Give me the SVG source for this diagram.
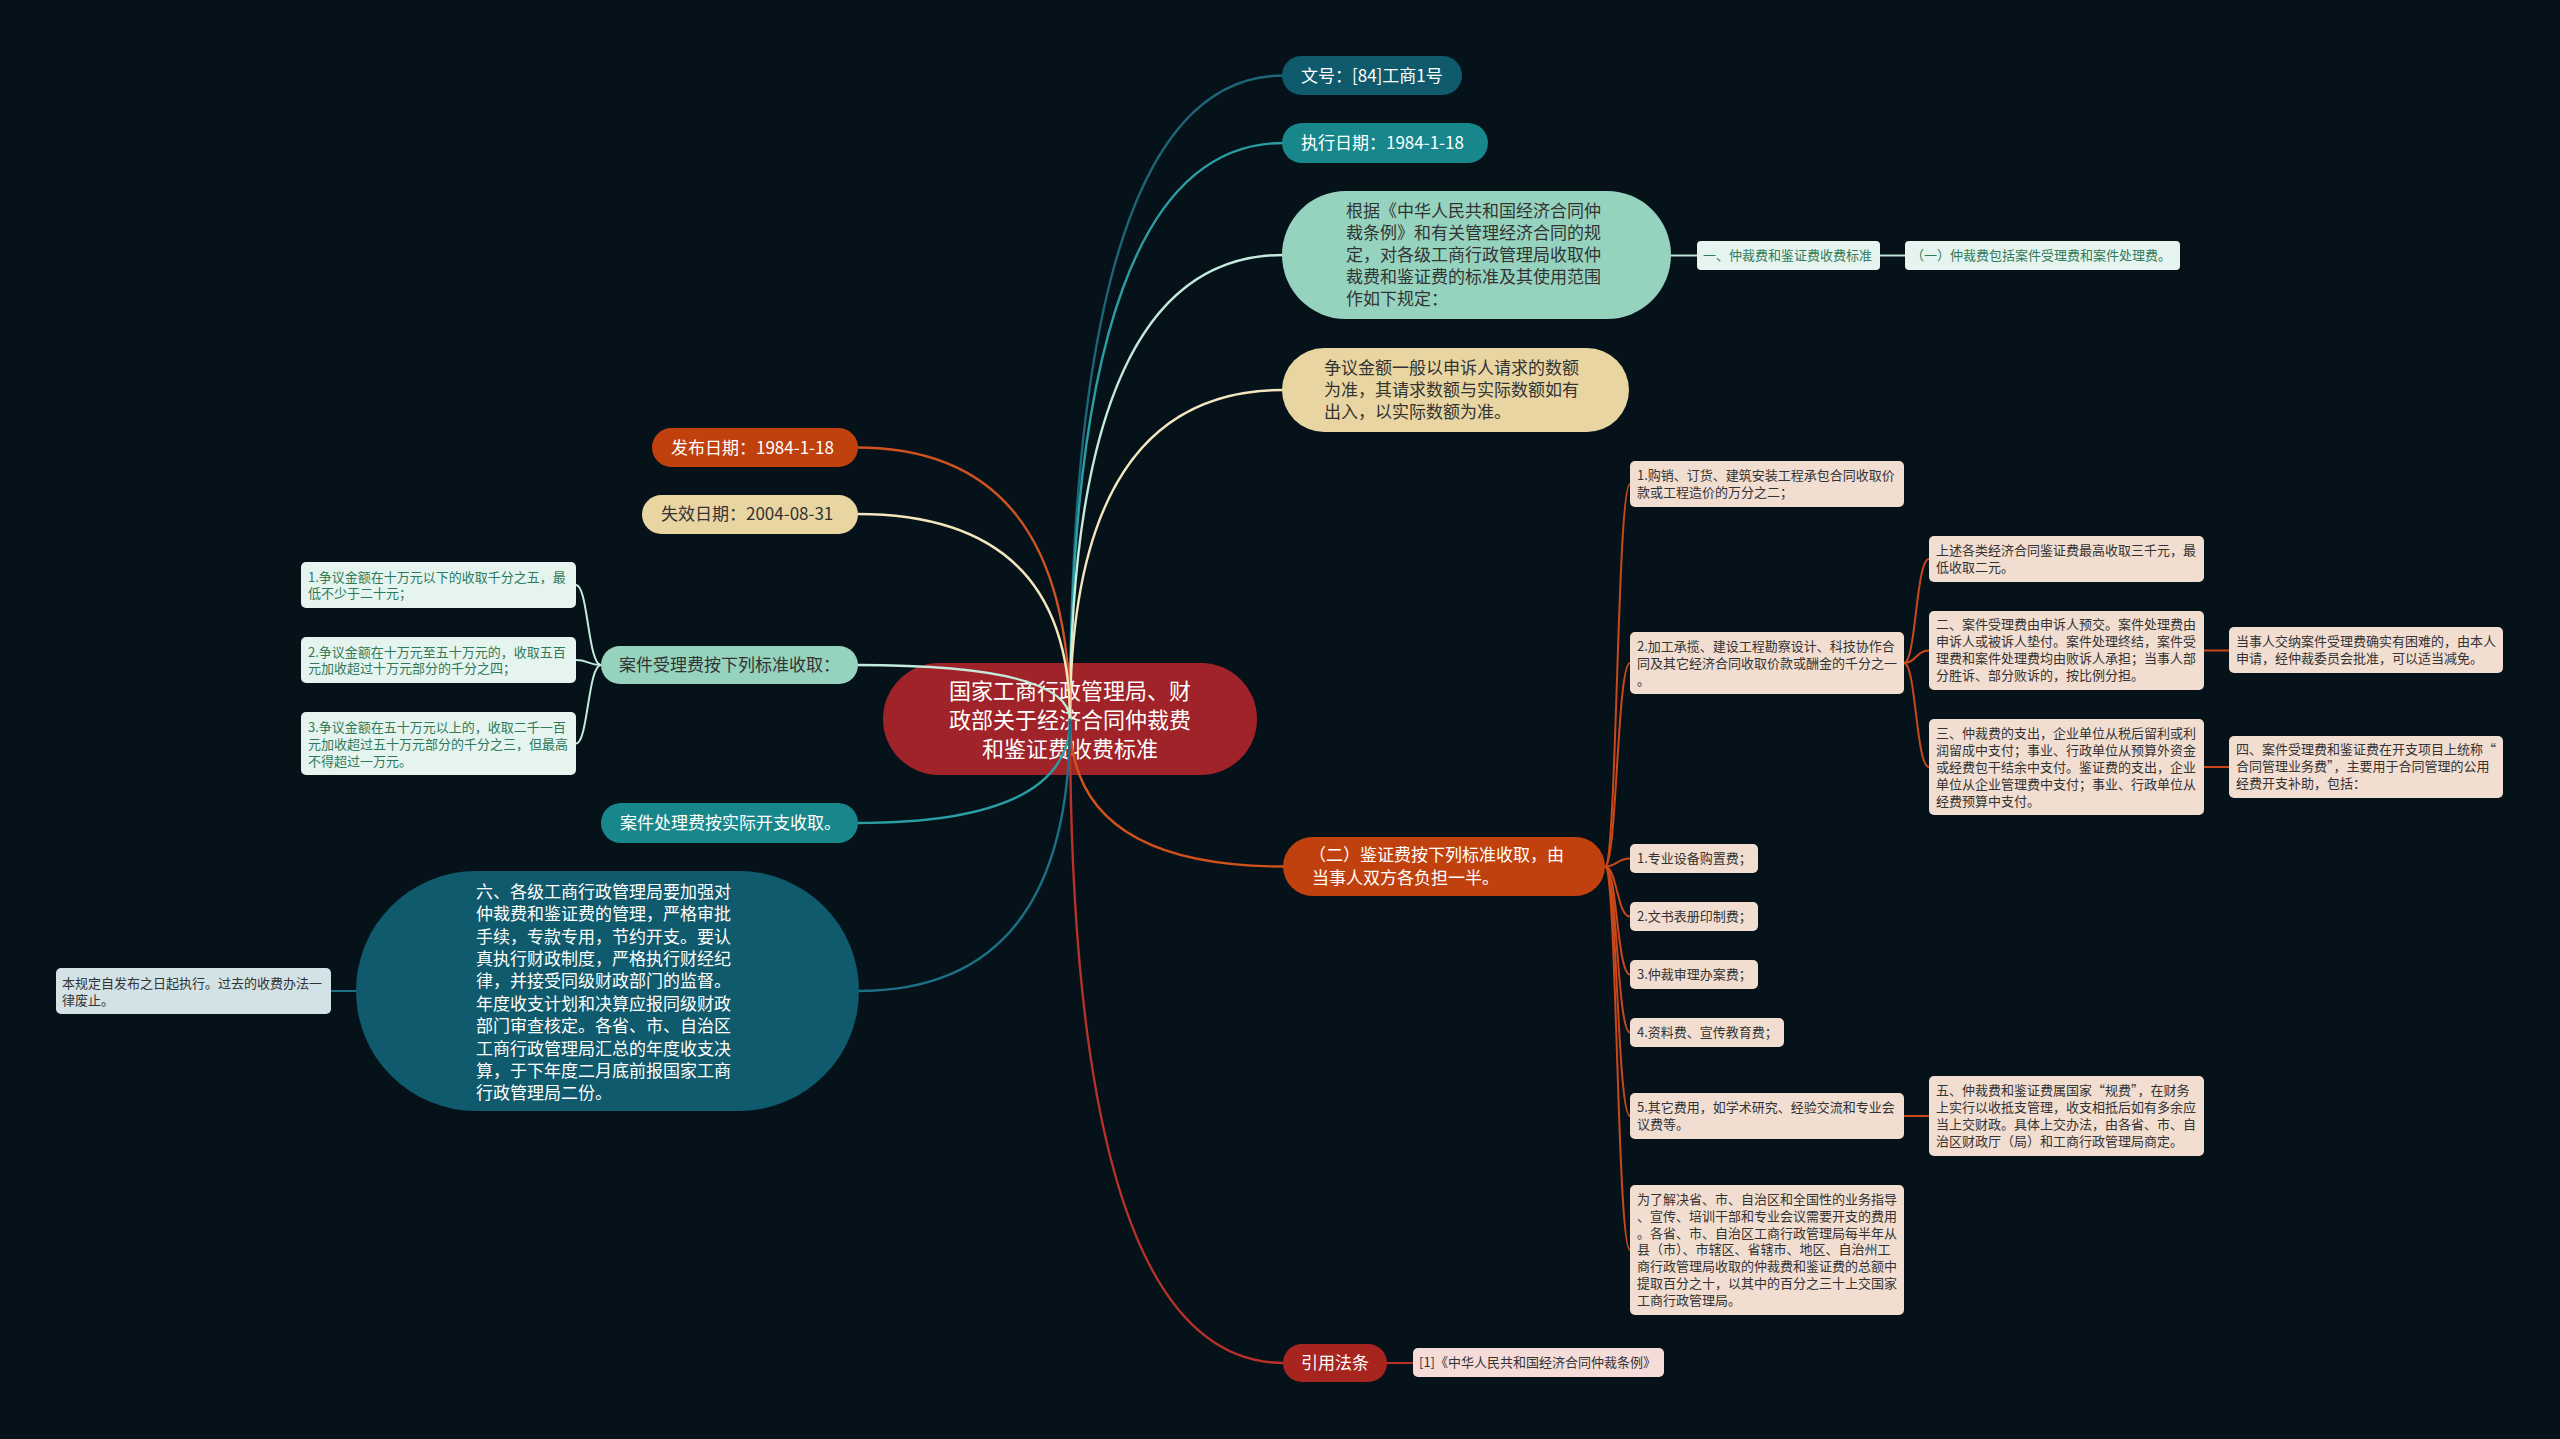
<svg xmlns="http://www.w3.org/2000/svg" width="2560" height="1439" viewBox="0 0 2560 1439">
<style>
text{font-family:"Noto Sans CJK SC","Noto Sans",sans-serif;dominant-baseline:central;transform:translate(0px,-1.5px)}
.t22{font-size:22px}
.t17{font-size:17px}
.t13{font-size:13px}
.w{fill:#ffffff}
.d{fill:#333333}
.g{fill:#2e7a5a}
.ln{fill:none;stroke-width:2.4;stroke-linecap:round}
.sl{fill:none;stroke-width:2;stroke-linecap:round}
.pe{fill:#f2ddd1}
.mi{fill:#e6f4ef}
</style>
<rect x="0" y="0" width="2560" height="1439" fill="#06121a"/>

<g id="center">
<rect x="883" y="663" width="374" height="112" rx="56" fill="#a1232a"/>
<text class="t22 w" x="1070" y="690" text-anchor="middle">国家工商行政管理局、财</text>
<text class="t22 w" x="1070" y="719" text-anchor="middle">政部关于经济合同仲裁费</text>
<text class="t22 w" x="1070" y="748" text-anchor="middle">和鉴证费收费标准</text>
</g>

<g id="connectors">
<path class="ln" stroke="#1d6577" d="M1070 720 Q1070 75.5 1283 75.5"/>
<path class="ln" stroke="#2a9ea3" d="M1070 720 Q1070 143 1283 143"/>
<path class="ln" stroke="#c4eadc" d="M1070 720 Q1070 255 1283 255"/>
<path class="ln" stroke="#f3e6bd" d="M1070 720 Q1070 390 1283 390"/>
<path class="ln" stroke="#d2531a" d="M1070 720 Q1070 866.5 1284 866.5"/>
<path class="ln" stroke="#b8322a" d="M1070 720 Q1070 1363 1284 1363"/>
<path class="ln" stroke="#cf5220" d="M1070 720 Q1070 447.5 857 447.5"/>
<path class="ln" stroke="#f3e6bd" d="M1070 720 Q1070 514 857 514"/>
<path class="ln" stroke="#c4eadc" d="M1070 720 Q1070 665 857 665"/>
<path class="ln" stroke="#2a9ea3" d="M1070 720 Q1070 823 857 823"/>
<path class="ln" stroke="#1d6f86" d="M1070 720 Q1070 991 858 991"/>
<path class="sl" stroke="#b9e3d4" d="M1671 255.5 L1697 255.5 M1880 255.5 L1905 255.5"/>
<g stroke="#c9481a">
<path class="sl" d="M1605 866.5 C1617 866.5 1617 484 1630 484"/>
<path class="sl" d="M1605 866.5 C1617 866.5 1617 663 1630 663"/>
<path class="sl" d="M1605 866.5 C1617 866.5 1617 858.5 1630 858.5"/>
<path class="sl" d="M1605 866.5 C1617 866.5 1617 916.5 1630 916.5"/>
<path class="sl" d="M1605 866.5 C1617 866.5 1617 974.5 1630 974.5"/>
<path class="sl" d="M1605 866.5 C1617 866.5 1617 1032.5 1630 1032.5"/>
<path class="sl" d="M1605 866.5 C1617 866.5 1617 1116 1630 1116"/>
<path class="sl" d="M1605 866.5 C1617 866.5 1617 1250 1630 1250"/>
<path class="sl" d="M1904 663 C1916 663 1916 559 1929 559"/>
<path class="sl" d="M1904 663 C1916 663 1916 650.5 1929 650.5"/>
<path class="sl" d="M1904 663 C1916 663 1916 767 1929 767"/>
<path class="sl" d="M2204 650.5 L2229 650.5"/>
<path class="sl" d="M2204 767 L2229 767"/>
<path class="sl" d="M1904 1116 L1929 1116"/>
</g>
<path class="sl" stroke="#b8322a" d="M1387 1363 L1413 1363"/>
<g stroke="#c4eadc">
<path class="sl" d="M601 665 C588 665 588 585 576 585"/>
<path class="sl" d="M601 665 C588 665 588 660 576 660"/>
<path class="sl" d="M601 665 C588 665 588 743.5 576 743.5"/>
</g>
<path class="sl" stroke="#1d6f86" d="M356 991 L331 991"/>
</g>

<g id="n-wenhao">
<rect x="1282" y="56" width="180" height="39" rx="19.5" fill="#0f5a6c"/>
<text class="t17 w" x="1301" y="75.5">文号：[84]工商1号</text>
</g>
<g id="n-zhixing">
<rect x="1282" y="123" width="206" height="40" rx="20" fill="#17878c"/>
<text class="t17 w" x="1301" y="143">执行日期：1984-1-18</text>
</g>
<g id="n-genju">
<rect x="1282" y="191" width="389" height="128" rx="64" fill="#95d3be"/>
<text class="t17 d" x="1346" y="211">根据《中华人民共和国经济合同仲</text>
<text class="t17 d" x="1346" y="233">裁条例》和有关管理经济合同的规</text>
<text class="t17 d" x="1346" y="255">定，对各级工商行政管理局收取仲</text>
<text class="t17 d" x="1346" y="277">裁费和鉴证费的标准及其使用范围</text>
<text class="t17 d" x="1346" y="299">作如下规定：</text>
</g>
<g id="n-yi">
<rect class="mi" x="1697" y="241" width="183" height="29" rx="4"/>
<text class="t13 g" x="1703" y="255.5">一、仲裁费和鉴证费收费标准</text>
</g>
<g id="n-yi1">
<rect class="mi" x="1905" y="241" width="275" height="29" rx="4"/>
<text class="t13 g" x="1911" y="255.5">（一）仲裁费包括案件受理费和案件处理费。</text>
</g>
<g id="n-zhengyi">
<rect x="1282" y="348" width="347" height="84" rx="42" fill="#e8d5a2"/>
<text class="t17 d" x="1324" y="368">争议金额一般以申诉人请求的数额</text>
<text class="t17 d" x="1324" y="390">为准，其请求数额与实际数额如有</text>
<text class="t17 d" x="1324" y="412">出入，以实际数额为准。</text>
</g>
<g id="n-jianzheng">
<rect x="1283" y="837" width="322" height="59" rx="29.5" fill="#c1410e"/>
<text class="t17 w" x="1309" y="855">（二）鉴证费按下列标准收取，由</text>
<text class="t17 w" x="1312" y="878">当事人双方各负担一半。</text>
</g>
<g id="n-a1">
<rect class="pe" x="1630" y="461" width="274" height="46" rx="5"/>
<text class="t13 d" x="1637" y="475.5">1.购销、订货、建筑安装工程承包合同收取价</text>
<text class="t13 d" x="1637" y="492.5">款或工程造价的万分之二；</text>
</g>
<g id="n-a2">
<rect class="pe" x="1630" y="632" width="274" height="62" rx="5"/>
<text class="t13 d" x="1637" y="647">2.加工承揽、建设工程勘察设计、科技协作合</text>
<text class="t13 d" x="1637" y="664">同及其它经济合同收取价款或酬金的千分之一</text>
<text class="t13 d" x="1637" y="681">。</text>
</g>
<g id="n-shangshu">
<rect class="pe" x="1929" y="536" width="275" height="46" rx="5"/>
<text class="t13 d" x="1936" y="550.5">上述各类经济合同鉴证费最高收取三千元，最</text>
<text class="t13 d" x="1936" y="567.5">低收取二元。</text>
</g>
<g id="n-er">
<rect class="pe" x="1929" y="611" width="275" height="79" rx="5"/>
<text class="t13 d" x="1936" y="625">二、案件受理费由申诉人预交。案件处理费由</text>
<text class="t13 d" x="1936" y="642">申诉人或被诉人垫付。案件处理终结，案件受</text>
<text class="t13 d" x="1936" y="659">理费和案件处理费均由败诉人承担；当事人部</text>
<text class="t13 d" x="1936" y="676">分胜诉、部分败诉的，按比例分担。</text>
</g>
<g id="n-dangshiren">
<rect class="pe" x="2229" y="627" width="274" height="46" rx="5"/>
<text class="t13 d" x="2236" y="642">当事人交纳案件受理费确实有困难的，由本人</text>
<text class="t13 d" x="2236" y="659">申请，经仲裁委员会批准，可以适当减免。</text>
</g>
<g id="n-san">
<rect class="pe" x="1929" y="719" width="275" height="96" rx="5"/>
<text class="t13 d" x="1936" y="733.5">三、仲裁费的支出，企业单位从税后留利或利</text>
<text class="t13 d" x="1936" y="750.5">润留成中支付；事业、行政单位从预算外资金</text>
<text class="t13 d" x="1936" y="767.5">或经费包干结余中支付。鉴证费的支出，企业</text>
<text class="t13 d" x="1936" y="784.5">单位从企业管理费中支付；事业、行政单位从</text>
<text class="t13 d" x="1936" y="801.5">经费预算中支付。</text>
</g>
<g id="n-si">
<rect class="pe" x="2229" y="736" width="274" height="62" rx="5"/>
<text class="t13 d" x="2236" y="750">四、案件受理费和鉴证费在开支项目上统称“</text>
<text class="t13 d" x="2236" y="767">合同管理业务费”，主要用于合同管理的公用</text>
<text class="t13 d" x="2236" y="784">经费开支补助，包括：</text>
</g>
<g id="n-b1">
<rect class="pe" x="1630" y="844" width="128" height="29" rx="5"/>
<text class="t13 d" x="1637" y="858.5">1.专业设备购置费；</text>
</g>
<g id="n-b2">
<rect class="pe" x="1630" y="902" width="128" height="29" rx="5"/>
<text class="t13 d" x="1637" y="916.5">2.文书表册印制费；</text>
</g>
<g id="n-b3">
<rect class="pe" x="1630" y="960" width="128" height="29" rx="5"/>
<text class="t13 d" x="1637" y="974.5">3.仲裁审理办案费；</text>
</g>
<g id="n-b4">
<rect class="pe" x="1630" y="1018" width="154" height="29" rx="5"/>
<text class="t13 d" x="1637" y="1032.5">4.资料费、宣传教育费；</text>
</g>
<g id="n-b5">
<rect class="pe" x="1630" y="1093" width="274" height="46" rx="5"/>
<text class="t13 d" x="1637" y="1107.5">5.其它费用，如学术研究、经验交流和专业会</text>
<text class="t13 d" x="1637" y="1124.5">议费等。</text>
</g>
<g id="n-wu">
<rect class="pe" x="1929" y="1076" width="275" height="80" rx="5"/>
<text class="t13 d" x="1936" y="1091">五、仲裁费和鉴证费属国家“规费”，在财务</text>
<text class="t13 d" x="1936" y="1108">上实行以收抵支管理，收支相抵后如有多余应</text>
<text class="t13 d" x="1936" y="1125">当上交财政。具体上交办法，由各省、市、自</text>
<text class="t13 d" x="1936" y="1142">治区财政厅（局）和工商行政管理局商定。</text>
</g>
<g id="n-weile">
<rect class="pe" x="1630" y="1185" width="274" height="130" rx="5"/>
<text class="t13 d" x="1637" y="1200">为了解决省、市、自治区和全国性的业务指导</text>
<text class="t13 d" x="1637" y="1216.8">、宣传、培训干部和专业会议需要开支的费用</text>
<text class="t13 d" x="1637" y="1233.6">。各省、市、自治区工商行政管理局每半年从</text>
<text class="t13 d" x="1637" y="1250.4">县（市）、市辖区、省辖市、地区、自治州工</text>
<text class="t13 d" x="1637" y="1267.2">商行政管理局收取的仲裁费和鉴证费的总额中</text>
<text class="t13 d" x="1637" y="1284">提取百分之十，以其中的百分之三十上交国家</text>
<text class="t13 d" x="1637" y="1300.8">工商行政管理局。</text>
</g>
<g id="n-yinyong">
<rect x="1283" y="1344" width="104" height="38" rx="19" fill="#a8241f"/>
<text class="t17 w" x="1301" y="1363">引用法条</text>
</g>
<g id="n-tiaoli">
<rect x="1413" y="1348" width="251" height="29" rx="5" fill="#f5dcd9"/>
<text class="t13 d" x="1419" y="1362.5">[1]《中华人民共和国经济合同仲裁条例》</text>
</g>

<g id="n-fabu">
<rect x="652" y="428" width="206" height="39" rx="19.5" fill="#c1410e"/>
<text class="t17 w" x="671" y="447.5">发布日期：1984-1-18</text>
</g>
<g id="n-shixiao">
<rect x="642" y="495" width="216" height="39" rx="19.5" fill="#e8d5a2"/>
<text class="t17 d" x="661" y="514">失效日期：2004-08-31</text>
</g>
<g id="n-shouli">
<rect x="601" y="646" width="257" height="38" rx="19" fill="#95d3be"/>
<text class="t17 d" x="619" y="665">案件受理费按下列标准收取：</text>
</g>
<g id="n-c1">
<rect class="mi" x="301" y="562" width="275" height="46" rx="5"/>
<text class="t13 g" x="308" y="577.5">1.争议金额在十万元以下的收取千分之五，最</text>
<text class="t13 g" x="308" y="594">低不少于二十元；</text>
</g>
<g id="n-c2">
<rect class="mi" x="301" y="637" width="275" height="46" rx="5"/>
<text class="t13 g" x="308" y="652.5">2.争议金额在十万元至五十万元的，收取五百</text>
<text class="t13 g" x="308" y="669">元加收超过十万元部分的千分之四；</text>
</g>
<g id="n-c3">
<rect class="mi" x="301" y="712" width="275" height="63" rx="5"/>
<text class="t13 g" x="308" y="727.5">3.争议金额在五十万元以上的，收取二千一百</text>
<text class="t13 g" x="308" y="744.5">元加收超过五十万元部分的千分之三，但最高</text>
<text class="t13 g" x="308" y="761.5">不得超过一万元。</text>
</g>
<g id="n-chuli">
<rect x="601" y="803" width="257" height="40" rx="20" fill="#17878c"/>
<text class="t17 w" x="620" y="823">案件处理费按实际开支收取。</text>
</g>
<g id="n-liu">
<rect x="356" y="871" width="503" height="240" rx="120" fill="#0f5a6c"/>
<text class="t17 w" x="476" y="891.7">六、各级工商行政管理局要加强对</text>
<text class="t17 w" x="476" y="914.1">仲裁费和鉴证费的管理，严格审批</text>
<text class="t17 w" x="476" y="936.5">手续，专款专用，节约开支。要认</text>
<text class="t17 w" x="476" y="958.9">真执行财政制度，严格执行财经纪</text>
<text class="t17 w" x="476" y="981.3">律，并接受同级财政部门的监督。</text>
<text class="t17 w" x="476" y="1003.7">年度收支计划和决算应报同级财政</text>
<text class="t17 w" x="476" y="1026.1">部门审查核定。各省、市、自治区</text>
<text class="t17 w" x="476" y="1048.5">工商行政管理局汇总的年度收支决</text>
<text class="t17 w" x="476" y="1070.9">算，于下年度二月底前报国家工商</text>
<text class="t17 w" x="476" y="1093.3">行政管理局二份。</text>
</g>
<g id="n-benguiding">
<rect x="56" y="968" width="275" height="46" rx="5" fill="#d3e2e6"/>
<text class="t13 d" x="62" y="983.5">本规定自发布之日起执行。过去的收费办法一</text>
<text class="t13 d" x="62" y="1000.5">律废止。</text>
</g>
</svg>
